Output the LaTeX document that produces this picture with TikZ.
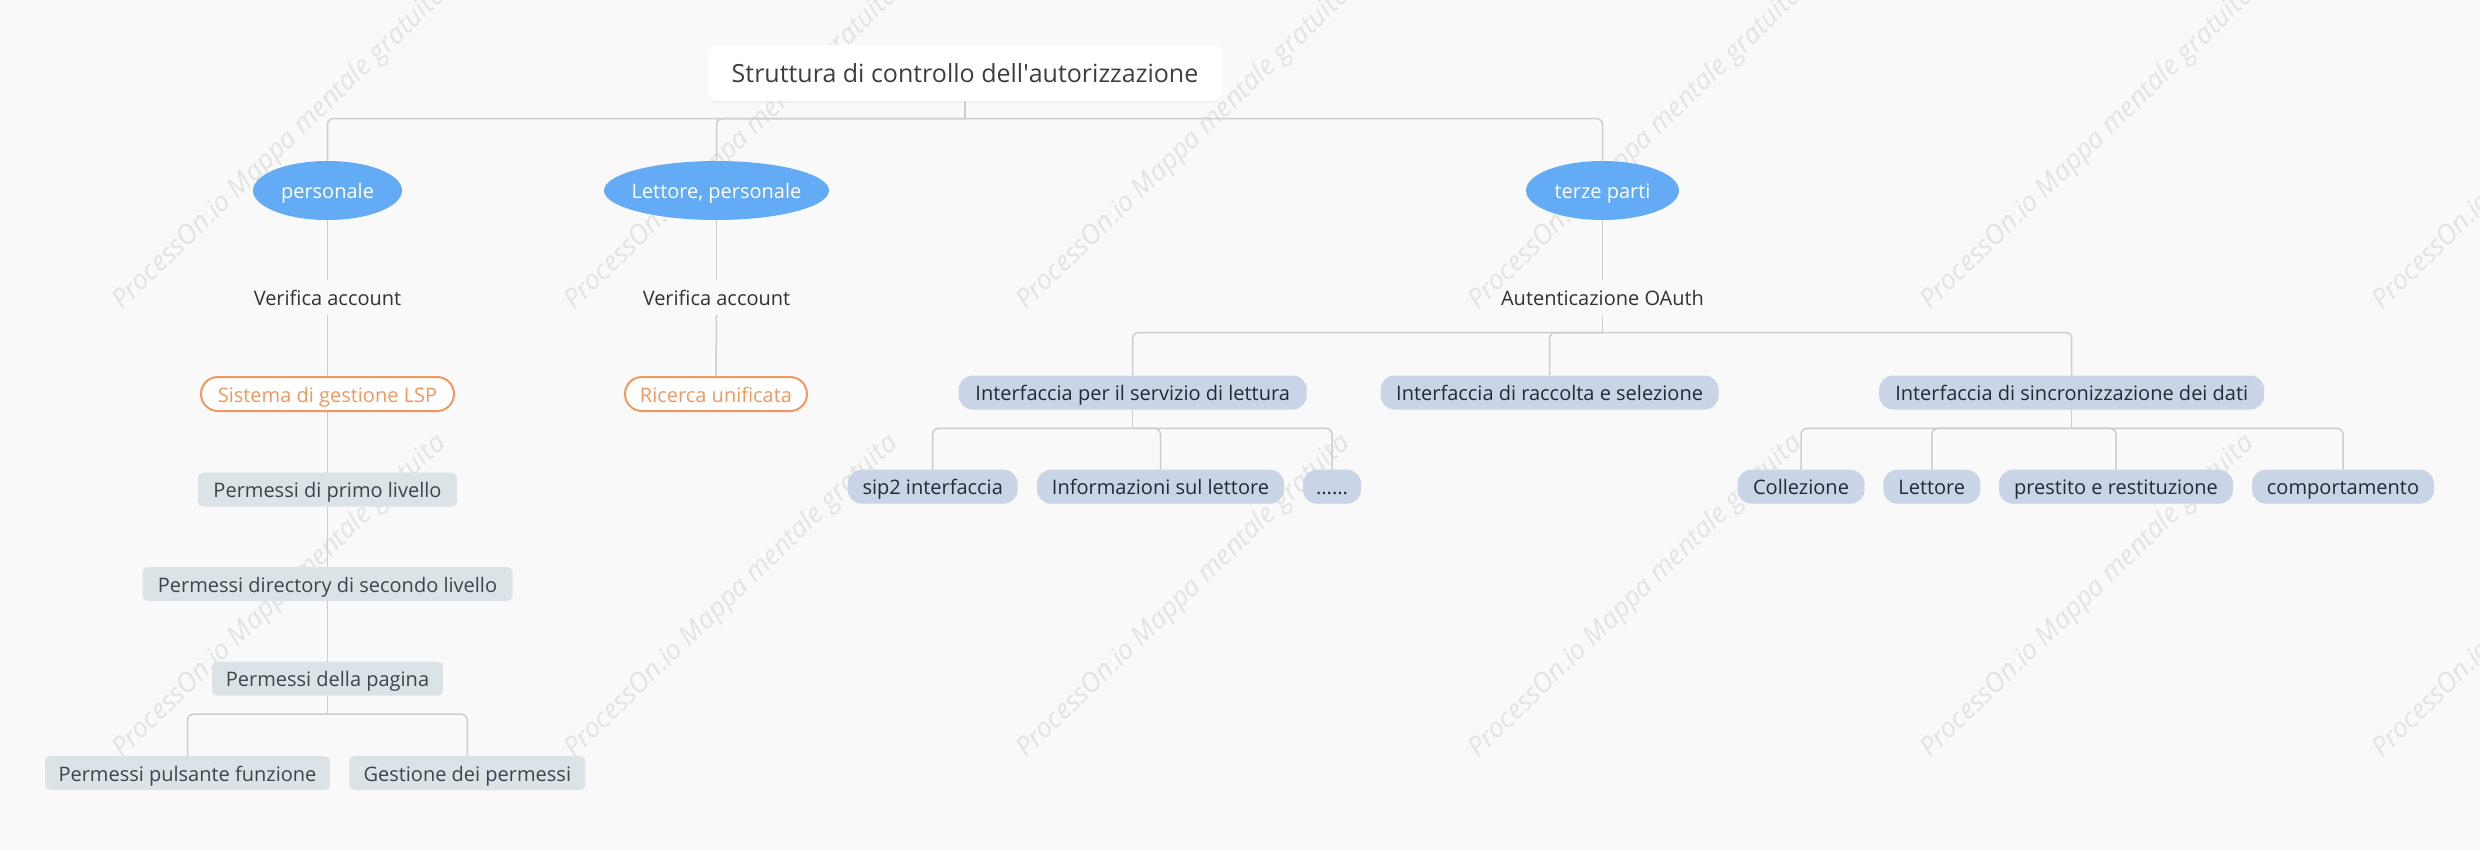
\documentclass[tikz,border=0pt]{standalone}
\usepackage{fontspec}
\setmainfont{Open Sans}
\usetikzlibrary{shapes.geometric,shadows}
\definecolor{bgc}{HTML}{F9F9F9}
\definecolor{linec}{HTML}{CDCDCD}
\definecolor{ellc}{HTML}{64ABF6}
\definecolor{orc}{HTML}{F0985F}
\definecolor{bluebox}{HTML}{C9D4E6}
\definecolor{bluetxt}{HTML}{1F2A3A}
\definecolor{graybox}{HTML}{DCE3E6}
\definecolor{graytxt}{HTML}{3A4550}
\definecolor{plaintxt}{HTML}{333333}
\definecolor{roottxt}{HTML}{3A3F45}
\definecolor{wmc}{HTML}{E3E3E3}
\newcommand\fsz[1]{\fontsize{#1}{#1}\selectfont}
\begin{document}
\begin{tikzpicture}[x=1pt,y=-1pt,
  conn/.style={draw=linec, line width=1.5pt},
  elbow/.style={conn, rounded corners=6pt},
  txt/.style={inner sep=0pt, text height=18pt, text depth=2pt, font=\fsz{20}},
  ell/.style={txt, ellipse, fill=ellc, text=white, minimum height=59pt},
  plain/.style={txt, minimum height=35pt, minimum width=150pt, text=plaintxt},
  orbox/.style={txt, rectangle, rounded corners=17pt, draw=orc, line width=2pt, fill=white, text=orc, minimum height=34pt},
  gbox/.style={txt, rectangle, rounded corners=5pt, fill=graybox, text=graytxt, minimum height=34pt},
  bbox/.style={txt, rectangle, rounded corners=14pt, fill=bluebox, text=bluetxt, minimum height=34pt},
  wm/.style={anchor=base west, rotate=44, inner sep=0pt, text=wmc, font=\fsz{27}\itshape},
]
\useasboundingbox (0,0) rectangle (2480,851);
\fill[bgc] (0,0) rectangle (2480,851);

% watermarks
\foreach \k in {-1,...,5} {
  \node[wm] (wma\k) at ({122+\k*452},311) {ProcessOn.io Mappa mentale gratuita};
  \node[wm] (wmb\k) at ({122+\k*452},759) {ProcessOn.io Mappa mentale gratuita};
}

% root
\node[rectangle, rounded corners=9pt, fill=white, minimum width=514pt, minimum height=56pt, inner sep=0pt,
  text height=21pt, text depth=2.5pt,
  text=roottxt, font=\fsz{25}, drop shadow={opacity=0.06, shadow xshift=0pt, shadow yshift=-2pt}]
  (root) at (965,73) {Struttura di controllo dell\textquotesingle autorizzazione};

% level 1
\node[ell, minimum width=149pt] (pers) at (327.5,190.5) {\makebox[0pt]{personale}};
\node[ell, minimum width=225pt] (lett) at (716.5,190.5) {\makebox[0pt]{Lettore, personale}};
\node[ell, minimum width=153pt] (terze) at (1602.5,190.5) {\makebox[0pt]{terze parti}};

% level 2
\node[plain] (va1) at (327.5,297.5) {Verifica account};
\node[plain] (va2) at (716.5,297.5) {Verifica account};
\node[plain, minimum width=210pt] (oa) at (1602.5,297.5) {Autenticazione OAuth};

% left chain
\node[orbox, minimum width=253pt] (lsp) at (327.5,394) {Sistema di gestione LSP};
\node[orbox, minimum width=182pt] (ric) at (716,394) {Ricerca unificata};
\node[gbox, minimum width=259pt] (p1) at (327.5,489.7) {Permessi di primo livello};
\node[gbox, minimum width=370pt] (p2) at (327.5,584) {Permessi directory di secondo livello};
\node[gbox, minimum width=231pt] (p3) at (327.5,678.7) {Permessi della pagina};
\node[gbox, minimum width=285pt] (pf) at (187.5,773) {Permessi pulsante funzione};
\node[gbox, minimum width=236pt] (gp) at (467.3,773) {Gestione dei permessi};

% OAuth children
\node[bbox, minimum width=348pt] (srv) at (1132.7,392.5) {Interfaccia per il servizio di lettura};
\node[bbox, minimum width=338pt] (rac) at (1549.6,392.5) {Interfaccia di raccolta e selezione};
\node[bbox, minimum width=385pt] (syn) at (2071.7,392.5) {Interfaccia di sincronizzazione dei dati};

\node[bbox, minimum width=170pt] (sip) at (932.7,486.7) {sip2 interfaccia};
\node[bbox, minimum width=247pt] (inf) at (1160.5,486.7) {Informazioni sul lettore};
\node[bbox, minimum width=58pt] (dots) at (1332,486.7) {......};

\node[bbox, minimum width=127pt] (col) at (1801,486.7) {Collezione};
\node[bbox, minimum width=97pt] (let) at (1931.8,486.7) {Lettore};
\node[bbox, minimum width=234pt] (pre) at (2116,486.7) {prestito e restituzione};
\node[bbox, minimum width=182pt] (com) at (2343,486.7) {comportamento};

% junctions
\path (root.south) ++(0,17.3) coordinate (j0);
\path (p3.south) ++(0,18.3) coordinate (j3);
\path (oa.south) ++(0,17.3) coordinate (j4);
\path (srv.south) ++(0,18.7) coordinate (j5);
\path (syn.south) ++(0,18.7) coordinate (j6);

% connectors
\draw[conn] (root.south) -- (j0);
\draw[elbow] (j0) -| (pers.north);
\draw[elbow] (j0) -| (lett.north);
\draw[elbow] (j0) -| (terze.north);

\draw[conn] (pers.south) -- (va1.north);
\draw[conn] (va1.south) -- (lsp.north);
\draw[conn] (lsp.south) -- (p1.north);
\draw[conn] (p1.south) -- (p2.north);
\draw[conn] (p2.south) -- (p3.north);
\draw[conn] (p3.south) -- (j3);
\draw[elbow] (j3) -| (pf.north);
\draw[elbow] (j3) -| (gp.north);

\draw[conn] (lett.south) -- (va2.north);
\draw[conn] (va2.south) -- (ric.north);

\draw[conn] (terze.south) -- (oa.north);
\draw[conn] (oa.south) -- (j4);
\draw[elbow] (j4) -| (srv.north);
\draw[elbow] (j4) -| (rac.north);
\draw[elbow] (j4) -| (syn.north);

\draw[conn] (srv.south) -- (j5);
\draw[elbow] (j5) -| (sip.north);
\draw[elbow] (j5) -| (inf.north);
\draw[elbow] (j5) -| (dots.north);

\draw[conn] (syn.south) -- (j6);
\draw[elbow] (j6) -| (col.north);
\draw[elbow] (j6) -| (let.north);
\draw[elbow] (j6) -| (pre.north);
\draw[elbow] (j6) -| (com.north);
\end{tikzpicture}
\end{document}
